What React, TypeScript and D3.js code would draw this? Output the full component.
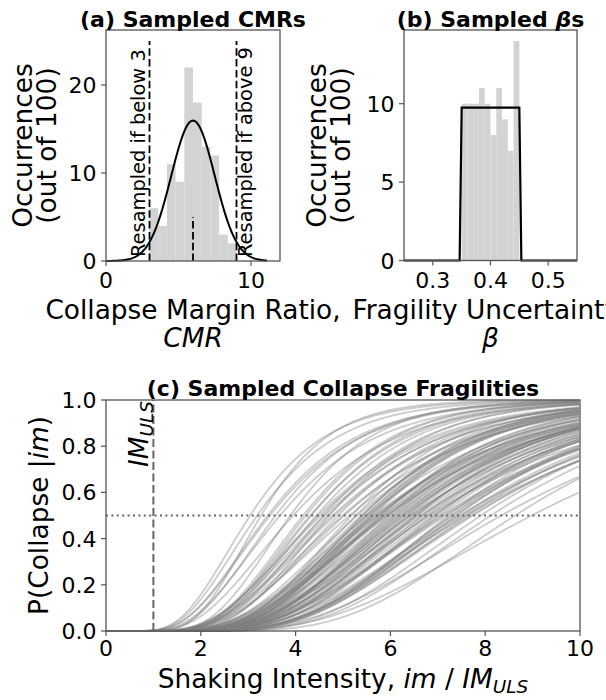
import React from 'react';
import * as d3 from 'd3';

// ---- sampled collapse margin ratios (one per realisation) ----
const cmrSamples = [
  3.04, 5.61, 6.83, 4.44, 7.28, 5.93, 6.20, 3.89, 5.14, 6.57,
  7.49, 4.62, 5.50, 6.01, 8.12, 5.74, 6.36, 4.90, 7.07, 5.43,
  3.41, 6.93, 5.85, 4.71, 7.60, 6.13, 5.65, 4.31, 8.63, 6.44,
  5.27, 7.17, 5.48, 3.67, 6.70, 5.98, 4.53, 7.37, 6.25, 5.77,
  4.99, 6.55, 3.19, 5.56, 7.02, 6.08, 4.22, 5.90, 7.74, 6.30,
  5.41, 4.83, 6.67, 3.58, 5.69, 7.40, 6.49, 4.68, 5.82, 6.96,
  3.95, 5.38, 6.15, 7.22, 5.51, 4.33, 6.89, 5.94, 7.91, 6.39,
  5.03, 4.59, 6.63, 3.27, 5.72, 7.55, 6.06, 4.78, 5.57, 6.80,
  8.98, 5.18, 6.42, 7.31, 5.86, 4.16, 6.76, 5.64, 3.46, 6.23,
  7.63, 4.48, 5.30, 6.52, 5.78, 7.12, 6.31, 8.34, 7.46, 7.70,
];

// ---- sampled fragility dispersions, paired with cmrSamples ----
const betaSamples = [
  0.417, 0.356, 0.443, 0.384, 0.372, 0.426, 0.398, 0.361, 0.447, 0.405,
  0.389, 0.435, 0.353, 0.412, 0.367, 0.444, 0.376, 0.394, 0.422, 0.358,
  0.441, 0.381, 0.409, 0.364, 0.431, 0.375, 0.449, 0.392, 0.352, 0.415,
  0.368, 0.424, 0.386, 0.446, 0.403, 0.357, 0.437, 0.379, 0.413, 0.396,
  0.445, 0.362, 0.428, 0.354, 0.383, 0.418, 0.371, 0.4495, 0.399, 0.407,
  0.363, 0.434, 0.387, 0.411, 0.442, 0.359, 0.394, 0.421, 0.366, 0.377,
  0.448, 0.385, 0.416, 0.351, 0.436, 0.373, 0.404, 0.443, 0.369, 0.391,
  0.425, 0.382, 0.447, 0.355, 0.411, 0.395, 0.365, 0.438, 0.378, 0.406,
  0.419, 0.357, 0.441, 0.386, 0.429, 0.374, 0.393, 0.362, 0.446, 0.401,
  0.381, 0.432, 0.415, 0.388, 0.375, 0.423, 0.397, 0.414, 0.427, 0.408,
];

// histogram bin edges
const cmrBinEdges = [3.0, 3.6, 4.2, 4.8, 5.4, 6.0, 6.6, 7.2, 7.8, 8.4, 9.0];
const betaBinEdges = [0.35, 0.36, 0.37, 0.38, 0.39, 0.4, 0.41, 0.42, 0.43, 0.44, 0.45];

// fitted normal for CMR (scaled to counts), resampling bounds and median marker
const cmrMean = 6;
const cmrStd = 1.5;
const cmrCurveRange = [0, 11.1];
const resampleBounds = [3, 9];
const boundLineTop = 25;
const medianMarkerTop = 5;

// uniform density for beta, as plotted
const betaLineX = [0.25, 0.3465, 0.35, 0.45, 0.4535, 0.55];
const betaLineY = [0, 0, 9.75, 9.75, 0, 0];

// fragility panel reference levels
const imUls = 1;
const halfProbability = 0.5;

// axis ticks
const cmrTicksX = [0, 10];
const cmrTicksY = [0, 10, 20];
const betaTicksX = [0.3, 0.4, 0.5];
const betaTicksY = [0, 5, 10];
const fragTicksX = [0, 2, 4, 6, 8, 10];
const fragTicksY = [0, 0.2, 0.4, 0.6, 0.8, 1.0];

const FONT = '"DejaVu Sans", sans-serif';
const SPINE = '#555555';
const BAR = '#d3d3d3';
const TICK_FS = 22;
const LABEL_FS = 26.4;
const TITLE_FS = 22;
const NOTE_FS = 19.4;

function normCdf(z: number): number {
  const x = Math.abs(z) / Math.SQRT2;
  const t = 1 / (1 + 0.3275911 * x);
  const poly = ((((1.061405429 * t - 1.453152027) * t + 1.421413741) * t - 0.284496736) * t + 0.254829592) * t;
  const erf = 1 - poly * Math.exp(-x * x);
  return z >= 0 ? 0.5 * (1 + erf) : 0.5 * (1 - erf);
}

type Lin = d3.ScaleLinear<number, number>;

function Frame({ x, y, xTicks, yTicks, fx, fy, xPad }: { x: Lin; y: Lin; xTicks: number[]; yTicks: number[]; fx: (v: number) => string; fy: (v: number) => string; xPad: number }) {
  const [x0, x1] = x.range();
  const [yb, yt] = y.range();
  return (
    <g fontFamily={FONT}>
      <rect x={x0} y={yt} width={x1 - x0} height={yb - yt} fill="none" stroke={SPINE} strokeWidth={1.3} />
      {xTicks.map((t) => (
        <g key={'x' + t}>
          <line x1={x(t)} x2={x(t)} y1={yb} y2={yb + 5} stroke={SPINE} strokeWidth={1.2} />
          <text x={x(t)} y={yb + xPad} textAnchor="middle" fontSize={TICK_FS} fill="#000">{fx(t)}</text>
        </g>
      ))}
      {yTicks.map((t) => (
        <g key={'y' + t}>
          <line x1={x0 - 5} x2={x0} y1={y(t)} y2={y(t)} stroke={SPINE} strokeWidth={1.2} />
          <text x={x0 - 9.5} y={y(t) + 8} textAnchor="end" fontSize={TICK_FS} fill="#000">{fy(t)}</text>
        </g>
      ))}
    </g>
  );
}

export default function App() {
  // panel (a)
  const xa = d3.scaleLinear().domain([0, 12]).range([106, 280]);
  const ya = d3.scaleLinear().domain([0, 26.25]).range([261, 30]);
  const cmrBins = d3.bin().domain([cmrBinEdges[0], cmrBinEdges[cmrBinEdges.length - 1]]).thresholds(cmrBinEdges.slice(1, -1))(cmrSamples);
  const scale = cmrSamples.length * (cmrBinEdges[1] - cmrBinEdges[0]);
  const normPts = d3.range(cmrCurveRange[0], cmrCurveRange[1] + 1e-9, 0.05).map((v) => [
    v,
    (scale / (cmrStd * Math.sqrt(2 * Math.PI))) * Math.exp(-0.5 * ((v - cmrMean) / cmrStd) ** 2),
  ]);
  const lineA = d3.line<number[]>().x((d) => xa(d[0])).y((d) => ya(d[1]));

  // panel (b)
  const xb = d3.scaleLinear().domain([0.25, 0.55]).range([404, 577]);
  const yb = d3.scaleLinear().domain([0, 14.7]).range([260.5, 30]);
  const betaBins = d3.bin().domain([betaBinEdges[0], betaBinEdges[betaBinEdges.length - 1]]).thresholds(betaBinEdges.slice(1, -1))(betaSamples);
  const lineB = d3.line<number>().x((d) => xb(d)).y((_, i) => yb(betaLineY[i]));

  // panel (c)
  const xc = d3.scaleLinear().domain([0, 10]).range([106, 580]);
  const yc = d3.scaleLinear().domain([0, 1]).range([631, 400]);
  const grid = d3.range(0.02, 10.0001, 0.04);
  const lineC = d3.line<number[]>().x((d) => xc(d[0])).y((d) => yc(d[1]));
  const curves = cmrSamples.map((m, i) => grid.map((im) => [im, normCdf(Math.log(im / m) / betaSamples[i])]));

  const fmt1 = (v: number) => v.toFixed(1);
  const fmt0 = (v: number) => String(v);

  return (
    <svg width={606} height={700} style={{ position: 'absolute', left: 0, top: 0, background: '#fff' }} fontFamily={FONT}>
      <rect width={606} height={700} fill="#fff" />

      {/* (a) CMR histogram */}
      {cmrBins.map((b, i) => (
        <rect key={i} x={xa(b.x0!)} y={ya(b.length)} width={xa(b.x1!) - xa(b.x0!)} height={ya(0) - ya(b.length)} fill={BAR} />
      ))}
      {resampleBounds.map((v) => (
        <line key={v} x1={xa(v)} x2={xa(v)} y1={ya(0)} y2={ya(boundLineTop)} stroke="#000" strokeWidth={1.8} strokeDasharray="7.5 3.3" />
      ))}
      <line x1={xa(cmrMean)} x2={xa(cmrMean)} y1={ya(0)} y2={ya(medianMarkerTop)} stroke="#000" strokeWidth={1.8} strokeDasharray="7.5 3.3" />
      <path d={lineA(normPts) ?? ''} fill="none" stroke="#000" strokeWidth={2} />
      <text transform={`translate(${xa(resampleBounds[0]) - 4.6},257) rotate(-90)`} fontSize={NOTE_FS}>Resampled if below 3</text>
      <text transform={`translate(${xa(resampleBounds[1]) + 15},257) rotate(-90)`} fontSize={NOTE_FS}>Resampled if above 9</text>
      <Frame x={xa} y={ya} xTicks={cmrTicksX} yTicks={cmrTicksY} fx={fmt0} fy={fmt0} xPad={27} />
      <text x={193} y={27} textAnchor="middle" fontSize={TITLE_FS} fontWeight="bold">(a) Sampled CMRs</text>
      <text transform="translate(32,145.5) rotate(-90)" textAnchor="middle" fontSize={LABEL_FS}>Occurrences</text>
      <text transform="translate(56,145.5) rotate(-90)" textAnchor="middle" fontSize={LABEL_FS}>(out of 100)</text>
      <text x={193} y={319} textAnchor="middle" fontSize={LABEL_FS}>Collapse Margin Ratio,</text>
      <text x={193} y={347} textAnchor="middle" fontSize={LABEL_FS} fontStyle="italic">CMR</text>

      {/* (b) beta histogram */}
      {betaBins.map((b, i) => (
        <rect key={i} x={xb(b.x0!)} y={yb(b.length)} width={xb(b.x1!) - xb(b.x0!)} height={yb(0) - yb(b.length)} fill={BAR} />
      ))}
      <path d={lineB(betaLineX) ?? ''} fill="none" stroke="#000" strokeWidth={2.2} />
      <Frame x={xb} y={yb} xTicks={betaTicksX} yTicks={betaTicksY} fx={fmt1} fy={fmt0} xPad={27} />
      <text x={490.5} y={27} textAnchor="middle" fontSize={TITLE_FS} fontWeight="bold">
        (b) Sampled <tspan fontStyle="italic">β</tspan>s
      </text>
      <text transform="translate(325.5,145.5) rotate(-90)" textAnchor="middle" fontSize={LABEL_FS}>Occurrences</text>
      <text transform="translate(349.5,145.5) rotate(-90)" textAnchor="middle" fontSize={LABEL_FS}>(out of 100)</text>
      <text x={490.5} y={319} textAnchor="middle" fontSize={LABEL_FS}>Fragility Uncertainty,</text>
      <text x={490.5} y={347} textAnchor="middle" fontSize={LABEL_FS} fontStyle="italic">β</text>

      {/* (c) fragility curves */}
      <g>
        {curves.map((c, i) => (
          <path key={i} d={lineC(c) ?? ''} fill="none" stroke="#808080" strokeOpacity={0.4} strokeWidth={1.8} />
        ))}
      </g>
      <line x1={xc(imUls)} x2={xc(imUls)} y1={yc(0)} y2={yc(1)} stroke="#666" strokeWidth={2} strokeDasharray="8 3.5" />
      <line x1={xc(0)} x2={xc(10)} y1={yc(halfProbability)} y2={yc(halfProbability)} stroke="#666" strokeWidth={2} strokeDasharray="2 3.4" />
      <text transform={`translate(${xc(imUls) - 5.5},401) rotate(-90)`} textAnchor="end" fontSize={LABEL_FS} fontStyle="italic">
        IM<tspan fontSize={LABEL_FS * 0.7} dy={5}>ULS</tspan>
      </text>
      <Frame x={xc} y={yc} xTicks={fragTicksX} yTicks={fragTicksY} fx={fmt0} fy={fmt1} xPad={25} />
      <text x={343} y={396} textAnchor="middle" fontSize={TITLE_FS} fontWeight="bold">(c) Sampled Collapse Fragilities</text>
      <text transform="translate(48,515.5) rotate(-90)" textAnchor="middle" fontSize={LABEL_FS}>
        P(Collapse |<tspan fontStyle="italic">im</tspan>)
      </text>
      <text x={343} y={688} textAnchor="middle" fontSize={LABEL_FS}>
        Shaking Intensity, <tspan fontStyle="italic">im</tspan> / <tspan fontStyle="italic">IM</tspan>
        <tspan fontStyle="italic" fontSize={LABEL_FS * 0.7} dy={5}>ULS</tspan>
      </text>
    </svg>
  );
}
